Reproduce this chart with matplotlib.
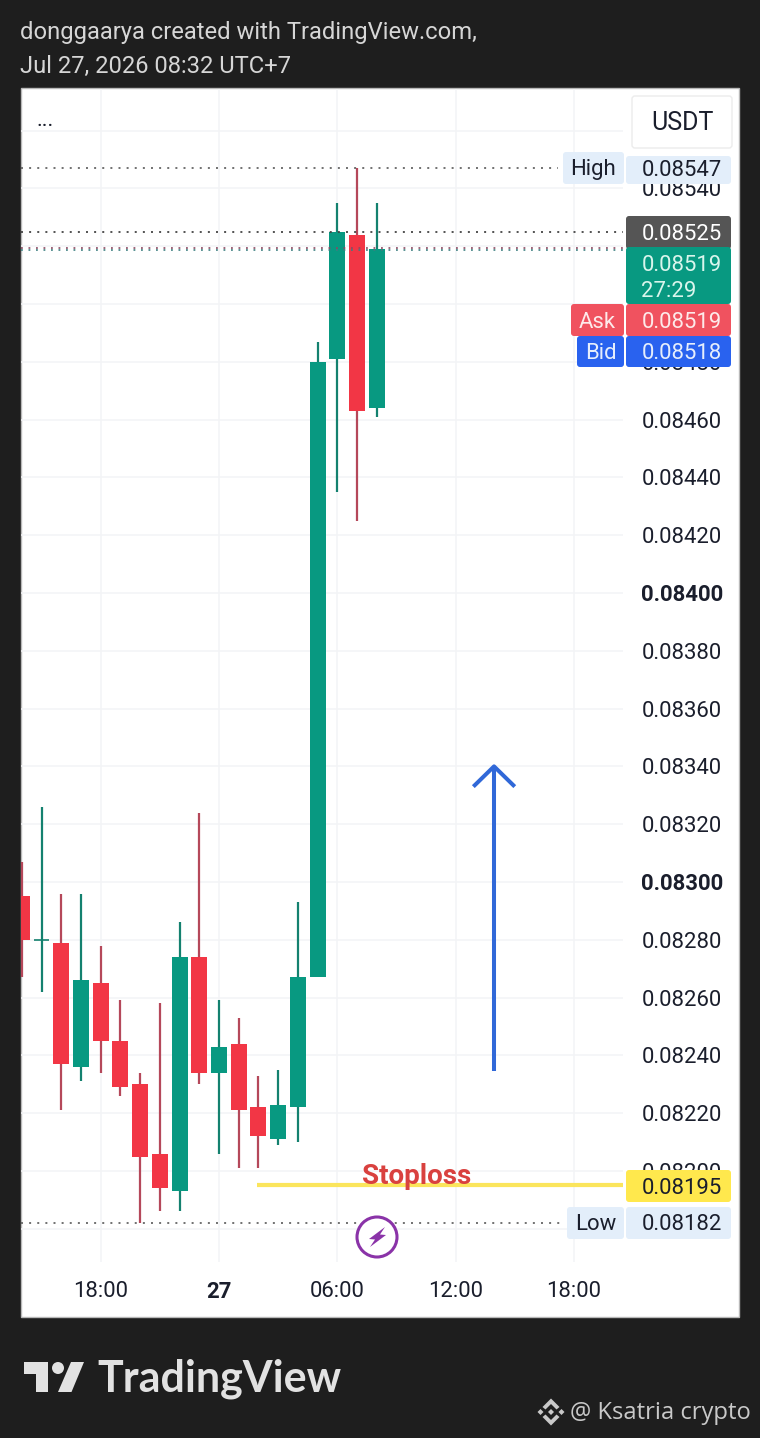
import matplotlib
matplotlib.use("Agg")
import matplotlib.pyplot as plt
from matplotlib.patches import Circle, FancyBboxPatch, Polygon, Rectangle

# hourly candles, 14:00 on the 26th through 08:00 on the 27th
hours = list(range(19))
opens = [0.08295, 0.08280, 0.08279, 0.08236, 0.08265, 0.08245, 0.08230, 0.08206, 0.08193, 0.08274,
         0.08234, 0.08244, 0.08222, 0.08211, 0.08222, 0.08267, 0.08481, 0.08524, 0.08464]
highs = [0.08307, 0.08326, 0.08296, 0.08296, 0.08278, 0.08259, 0.08234, 0.08258, 0.08286, 0.08324,
         0.08259, 0.08253, 0.08233, 0.08235, 0.08293, 0.08487, 0.08535, 0.08547, 0.08535]
lows = [0.08267, 0.08262, 0.08221, 0.08231, 0.08234, 0.08226, 0.08182, 0.08186, 0.08186, 0.08230,
        0.08206, 0.08201, 0.08201, 0.08209, 0.08210, 0.08267, 0.08435, 0.08425, 0.08461]
closes = [0.08280, 0.08280, 0.08237, 0.08266, 0.08245, 0.08229, 0.08205, 0.08194, 0.08274, 0.08234,
          0.08243, 0.08221, 0.08212, 0.08223, 0.08267, 0.08480, 0.08525, 0.08463, 0.08519]
doji_green = [1]

price_ticks = [0.08180 + 0.0002 * i for i in range(20)]
bold_prices = ["0.08300", "0.08400"]
time_ticks = [4, 10, 16, 22, 28]
time_labels = ["18:00", "27", "06:00", "12:00", "18:00"]

high_price = 0.08547
low_price = 0.08182
prev_price = 0.08525
last_price = 0.08519
ask_price = 0.08519
stop_price = 0.08195
arrow_x = 23.95
arrow_start = 0.082345
arrow_tip = 0.08340
arrow_head_y = 0.08333

BG = "#1e1e1e"
INK = "#1a1e2c"
GREEN = "#089981"
RED = "#f23645"
PALE = "#e3eefa"
FS = 15.9

plt.rcParams["font.family"] = ["Roboto", "DejaVu Sans"]

fig = plt.figure(figsize=(7.6, 14.38), dpi=100, facecolor=BG)


def pixel_axes(order):
    a = fig.add_axes([0, 0, 1, 1], zorder=order)
    a.set_xlim(0, 760)
    a.set_ylim(1438, 0)
    a.axis("off")
    a.patch.set_visible(False)
    return a


back = pixel_axes(0)
front = pixel_axes(2)
back.add_patch(Rectangle((20.5, 88), 718.5, 1229, fc="white", ec="#b8b8b8", lw=1))

# price pane
ax = fig.add_axes([21 / 760, 1 - 1262 / 1438, 602 / 760, 1173 / 1438], zorder=1)
ax.patch.set_visible(False)
ax.set_xlim(-0.04, 30.49)
ax.set_ylim(0.081685, 0.085744)
for s in ax.spines.values():
    s.set_visible(False)
ax.grid(True, color="#f3f4f6", lw=1.1)
ax.set_axisbelow(True)
ax.yaxis.tick_right()
ax.set_yticks(price_ticks)
ax.set_yticklabels([f"{p:.5f}" for p in price_ticks], fontsize=FS, color=INK)
for lab in ax.get_yticklabels():
    if lab.get_text() in bold_prices:
        lab.set_fontweight("bold")
ax.set_xticks(time_ticks)
ax.set_xticklabels(time_labels, fontsize=FS, color=INK)
ax.get_xticklabels()[1].set_fontweight("bold")
ax.tick_params(axis="y", length=0, pad=13.2)
ax.tick_params(axis="x", length=0, pad=13.5)

for i, h in enumerate(hours):
    up = closes[i] >= opens[i]
    if i in doji_green:
        up = True
    body = GREEN if up else RED
    wick = "#14816f" if up else "#b5485a"
    ax.vlines(h, lows[i], highs[i], color=wick, lw=1.6, zorder=3)
    if i in doji_green:
        ax.hlines(opens[i], h - 0.4, h + 0.4, color=wick, lw=1.2, zorder=3)
    else:
        ax.bar(h, abs(closes[i] - opens[i]), bottom=min(opens[i], closes[i]), width=0.81,
               color=body, lw=0, zorder=4)

# dotted price lines
dots = (0, (1.1, 3.4))
ax.plot([-0.04, 27.2], [high_price] * 2, color="#666666", lw=1.3, ls=dots, zorder=5)
ax.plot([-0.04, 27.55], [low_price] * 2, color="#666666", lw=1.3, ls=dots, zorder=2)
ax.plot([-0.04, 30.49], [prev_price] * 2, color="#444444", lw=1.3, ls=dots, zorder=5)
ax.plot([-0.04, 30.49], [last_price + 0.000004] * 2, color="#8a4a62", lw=1.2, ls=dots, zorder=5)
ax.plot([-0.04, 30.49], [last_price - 0.000004] * 2, color="#3c7f80", lw=1.2, ls=dots, zorder=5)

# drawings on the pane
ax.plot([11.93, 30.6], [stop_price] * 2, color="#fbe55c", lw=3, solid_capstyle="butt", zorder=5)
ax.text(20.0, stop_price + 0.00003, "Stoploss", color="#d9413f", fontsize=20, fontweight="bold",
        ha="center", va="center", zorder=6)
ax.plot([arrow_x, arrow_x], [arrow_start, arrow_tip], color="#3068d8", lw=2.9, solid_capstyle="butt", zorder=5)
ax.plot([arrow_x - 1.05, arrow_x, arrow_x + 1.05], [arrow_head_y, arrow_tip, arrow_head_y],
        color="#3068d8", lw=2.9, solid_capstyle="butt", solid_joinstyle="round", zorder=5)


def badge(x0, y0, x1, y1, color, text=None, tcolor=INK, tx=None, edge="none", size=FS, dy=0):
    front.add_patch(FancyBboxPatch((x0, y0), x1 - x0, y1 - y0, boxstyle="round,pad=0,rounding_size=3",
                                   fc=color, ec=edge, lw=1))
    if text:
        front.text(tx if tx else (x0 + x1) / 2, (y0 + y1) / 2 + dy, text, color=tcolor, fontsize=size,
                   ha="left" if tx else "center", va="center_baseline")


# right scale badges
badge(632, 96, 732, 148, "white", "USDT", edge="#ececec", size=18, dy=-1)
front.patches[-1].set_zorder(1)
badge(563, 152, 624, 184, PALE, "High", dy=-1.5)
badge(626, 156, 731, 184, PALE, f"{high_price:.5f}", tx=641.5, dy=-1.5)
badge(626, 216, 731, 249, "#555555", f"{prev_price:.5f}", "white", tx=641.5)
badge(626, 247, 731, 304, GREEN)
front.text(641.5, 263, f"{last_price:.5f}", color="#d9f5ec", fontsize=FS, va="center_baseline")
front.text(641.5, 289, "27:29", color="#d9f5ec", fontsize=FS, va="center_baseline")
badge(571, 304, 624, 336, "#f0525f", "Ask", "#fdeaea", dy=-0.5)
badge(626, 304, 731, 336, "#f0525f", f"{ask_price:.5f}", "#fdeaea", tx=641.5, dy=-0.5)
badge(577, 336, 624, 367, "#2962ef", "Bid", "#e6eefc", dy=-0.5)
badge(626, 336, 731, 367, "#2962ef", "0.08518", "#e6eefc", tx=641.5, dy=-0.5)
badge(626, 1170, 731, 1202, "#ffe84d", f"{stop_price:.5f}", tx=641.5, dy=-0.5)
badge(567, 1207, 624, 1239, PALE, "Low", dy=-0.5)
badge(626, 1207, 731, 1239, PALE, f"{low_price:.5f}", tx=641.5, dy=-0.5)

front.text(36, 121, "...", color=INK, fontsize=FS, va="center", ha="left")

# lightning marker
front.add_patch(Circle((377, 1237), 20, fc="white", ec="#8a33a8", lw=2.2))
front.add_patch(Polygon([(385, 1227), (369, 1239), (375, 1239.5), (370, 1247), (386, 1235), (380, 1234.5)],
                        fc="#8a33a8", ec="none"))

# header
front.text(20, 33, "donggaarya created with TradingView.com,", color="#d6d6d6", fontsize=17.15, va="center")
front.text(20, 66, "Jul 27, 2026 08:32 UTC+7", color="#d6d6d6", fontsize=17.15, va="center")

# logo
logo = "#e2e2e2"
front.add_patch(Polygon([(24, 1362), (48, 1362), (48, 1392), (36, 1392), (36, 1374), (24, 1374)], fc=logo, ec="none"))
front.add_patch(Circle((58, 1368), 6, fc=logo, ec="none"))
front.add_patch(Polygon([(71, 1362), (84, 1362), (71.5, 1392), (58, 1392)], fc=logo, ec="none"))
front.text(97, 1379, "TradingView", color=logo, fontsize=31, fontweight="bold", family="Lato", va="center")

# watermark
mark = "#c9c9c9"
cx, cy = 551, 1412
for s in (-1, 1):
    front.add_patch(Polygon([(cx, cy + s * 13.5), (cx + 8.5, cy + s * 5), (cx + 5.5, cy + s * 2.5),
                             (cx, cy + s * 8), (cx - 5.5, cy + s * 2.5), (cx - 8.5, cy + s * 5)],
                            fc=mark, ec="none"))
    front.add_patch(Polygon([(cx + s * 13.5, cy), (cx + s * 10.5, cy + 3), (cx + s * 7.5, cy), (cx + s * 10.5, cy - 3)],
                            fc=mark, ec="none"))
front.add_patch(Polygon([(cx, cy - 3), (cx + 3, cy), (cx, cy + 3), (cx - 3, cy)], fc=mark, ec="none"))
front.text(570, 1413, "@ Ksatria crypto", color=mark, fontsize=17.1, family="Open Sans", va="center")

fig.savefig("out.png", dpi=100, facecolor=BG)
